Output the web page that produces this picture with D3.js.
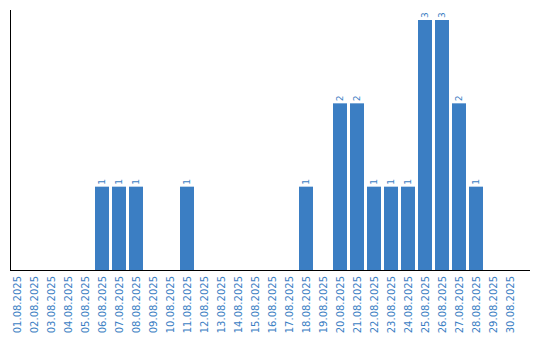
<!DOCTYPE html>
<html>
<head>
<meta charset="utf-8">
<script src="https://cdn.jsdelivr.net/npm/d3@7"></script>
<style>
  body { margin: 0; background: #fff; }
  svg text { font-family: "DejaVu Sans", sans-serif; }
</style>
</head>
<body>
<svg id="chart"></svg>
<script>
// Dimensions
const svg_width = 540;
const svg_height = 340;

// Data
const days = ["01.08.2025", "02.08.2025", "03.08.2025", "04.08.2025", "05.08.2025",
  "06.08.2025", "07.08.2025", "08.08.2025", "09.08.2025", "10.08.2025",
  "11.08.2025", "12.08.2025", "13.08.2025", "14.08.2025", "15.08.2025",
  "16.08.2025", "17.08.2025", "18.08.2025", "19.08.2025", "20.08.2025",
  "21.08.2025", "22.08.2025", "23.08.2025", "24.08.2025", "25.08.2025",
  "26.08.2025", "27.08.2025", "28.08.2025", "29.08.2025", "30.08.2025"];
const counts = [0, 0, 0, 0, 0, 1, 1, 1, 0, 0,
  1, 0, 0, 0, 0, 0, 0, 1, 0, 2,
  2, 1, 1, 1, 3, 3, 2, 1, 0, 0];

const data = days.map((d, i) => ({ day: d, count: counts[i] }));

const color = "#3b7ec3";
const plot = { left: 10, right: 530, top: 10, bottom: 270 };

const svg = d3.select("#chart")
  .attr("width", svg_width)
  .attr("height", svg_height);

// Scales
const xScale = d3.scaleBand()
  .domain(days)
  .range([plot.left, 520])
  .paddingInner(3 / 17)
  .paddingOuter(3 / 34)
  .align(0);

const yScale = d3.scaleLinear()
  .domain([0, 3])
  .range([plot.bottom, 20]);

// Bars
svg.selectAll("rect.bar")
  .data(data.filter(d => d.count > 0))
  .enter()
  .append("rect")
  .attr("class", "bar")
  .attr("x", d => xScale(d.day))
  .attr("y", d => yScale(d.count))
  .attr("width", xScale.bandwidth())
  .attr("height", d => yScale(0) - yScale(d.count))
  .attr("fill", color);

// Value labels
svg.selectAll("text.val")
  .data(data.filter(d => d.count > 0))
  .enter()
  .append("text")
  .attr("class", "val")
  .attr("transform", d => `translate(${xScale(d.day) + xScale.bandwidth() / 2}, ${yScale(d.count) - 2}) rotate(-90)`)
  .attr("dy", "0.35em")
  .attr("text-anchor", "start")
  .attr("fill", color)
  .style("font-size", "9px")
  .text(d => d.count);

// X axis labels
const xAxis = d3.axisBottom(xScale).tickSize(0).tickPadding(0);
svg.append("g")
  .attr("transform", `translate(0, ${plot.bottom})`)
  .call(xAxis)
  .call(g => g.select(".domain").remove())
  .selectAll("text")
  .attr("transform", "rotate(-90)")
  .attr("x", -6)
  .attr("y", 0)
  .attr("dy", "0.35em")
  .style("text-anchor", "end")
  .style("font-family", "DejaVu Sans, sans-serif")
  .style("font-size", "10px")
  .attr("fill", color);

// Axis lines
svg.append("line")
  .attr("x1", plot.left + 0.5).attr("x2", plot.left + 0.5)
  .attr("y1", plot.top).attr("y2", plot.bottom)
  .attr("stroke", "#000");
svg.append("line")
  .attr("x1", plot.left).attr("x2", plot.right)
  .attr("y1", plot.bottom + 0.5).attr("y2", plot.bottom + 0.5)
  .attr("stroke", "#000");
</script>
</body>
</html>
